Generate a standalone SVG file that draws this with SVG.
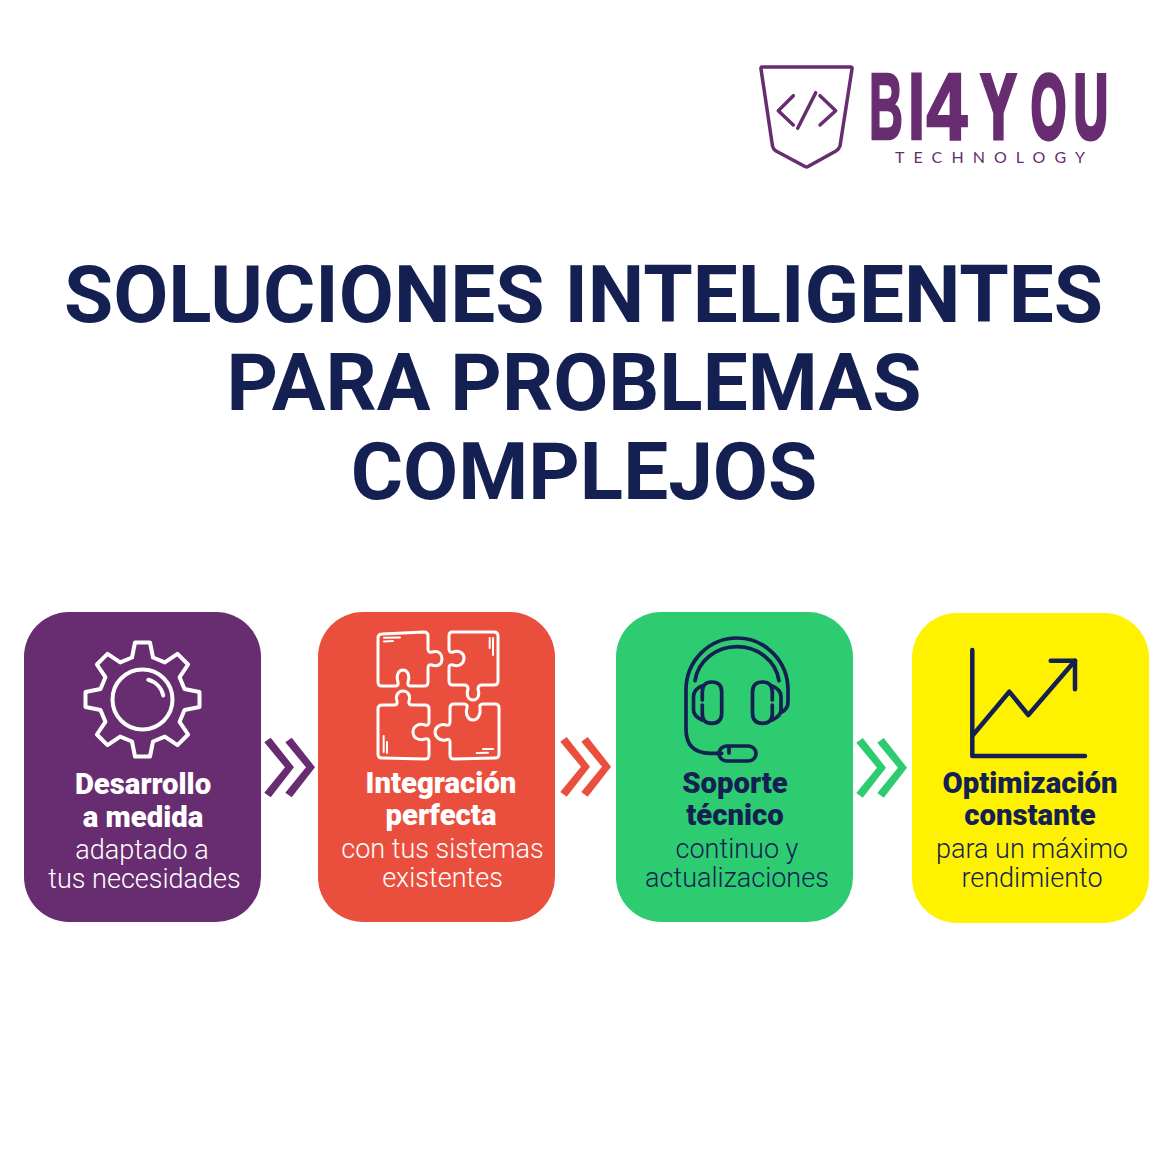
<svg xmlns="http://www.w3.org/2000/svg" width="1174" height="1174" viewBox="0 0 1174 1174">
<style>
text{font-family:Roboto,"Liberation Sans",sans-serif;text-anchor:middle}
.t{font-weight:700;font-size:80px;fill:#141f52}
.b{font-weight:900;font-size:29.300px}
.r{font-weight:300;font-size:27px}
.w{fill:#fff}.n{fill:#141f52}
.sw{fill:none;stroke:#fff;stroke-linecap:round;stroke-linejoin:round}
.sn{fill:none;stroke:#141f52;stroke-linecap:round;stroke-linejoin:round}
.lg{fill:none;stroke:#682c70;stroke-width:3.500;stroke-linecap:round;stroke-linejoin:round}
.lt{font-family:"Liberation Sans",sans-serif;font-weight:700;font-size:94px;fill:#682c70;stroke:#682c70;stroke-width:2.500;text-anchor:start}
.lt2{font-size:90px;stroke-width:5}
</style>
<defs>
<g id="chev"><polygon points="264.3,742.3 270.7,737.7 294,767.3 270.7,797.3 264.3,792.7 285,767.3"/><polygon points="285.3,742.3 291.7,737.7 315,767.3 291.7,797.3 285.3,792.7 306,767.3"/></g>
</defs>
<rect width="1174" height="1174" fill="#fff"/>
<g id="logo">
<path class="lg" d="M762 67H850.5Q852.5 67 852 69L840 146Q839 149 836 151L808 166.5Q806.7 167.3 805 166.5L776 151Q773 149 772.5 146L761 69Q760.7 67 762 67Z"/>
<path class="lg" d="M793.3 95.7L778.3 110.7L793.3 125M815.7 92.7L797.7 128.3M820 95.7L835.7 110.7L820 125"/>
<g class="letters">
<text class="lt" transform="translate(869 139) scale(.5 1)">B</text>
<text class="lt" transform="translate(908 139) scale(.65 1)">I</text>
<text class="lt" transform="translate(926.500 139) scale(.78 1)">4</text>
<text class="lt lt2" transform="translate(981 138) scale(.58 1)">Y</text>
<text class="lt lt2" transform="translate(1031 138) scale(.5 1)">O</text>
<text class="lt lt2" transform="translate(1074 138) scale(.52 1)">U</text>
</g>
<text x="990" y="163" textLength="190" style="font-family:Lato,sans-serif;font-weight:400;font-size:16px;fill:#682c70">TECHNOLOGY</text>
</g>
<g id="title">
<text class="t" x="583.5" y="322">SOLUCIONES INTELIGENTES</text>
<text class="t" x="574" y="410">PARA PROBLEMAS</text>
<text class="t" x="584" y="498.500">COMPLEJOS</text>
</g>
<g id="connectors">
<use href="#chev" fill="#682c70"/>
<use href="#chev" x="296" y="-.6" fill="#ea4f3d"/>
<use href="#chev" x="592" y=".4" fill="#2ecc71"/>
</g>
<g id="card-desarrollo">
<rect x="24" y="612" width="237" height="310" rx="45" fill="#682c70"/>
<g class="sw" stroke-width="4" transform="translate(142.5 699.500)">
<path d="M-10.5 -42L-7.5 -57H7.5L10.5 -42L22.3 -37.1L35 -45.6L45.6 -35L37.1 -22.3L42 -10.5L57 -7.5V7.5L42 10.5L37.1 22.3L45.6 35L35 45.6L22.3 37.1L10.5 42L7.5 57H-7.5L-10.5 42L-22.3 37.1L-35 45.6L-45.6 35L-37.1 22.3L-42 10.5L-57 7.5V-7.5L-42 -10.5L-37.1 -22.3L-45.6 -35L-35 -45.6L-22.3 -37.1Z"/>
<circle r="30"/>
<path d="M5.8 -19.7A21 21 0 0 1 20.8 -4"/>
</g>
<text class="b w" x="143" y="794">Desarrollo</text>
<text class="b w" x="143" y="827">a medida</text>
<text class="r w" x="142" y="859">adaptado a</text>
<text class="r w" x="144.500" y="888">tus necesidades</text>
</g>
<g id="card-integracion">
<rect x="318" y="612" width="237" height="310" rx="45" fill="#ea4f3d"/>
<g class="sw" stroke-width="3">
<path d="M382 634L424 632Q428 632 428 636V649Q428 653 432 652C440 650 442 655 442 659C442 664 438 667 432 665Q428 664 428 668V682Q428 686 424 686H411Q407 686 408 682C410 676 408 670 403 670C398 670 396 676 398 682Q399 686 395 686H382Q378 686 378 682V638Q378 634 382 634Z"/>
<path d="M452 632H494Q498 632 498 636V681Q498 685 494 685H482Q478 685 478 689C480 695 478 700 473 700C468 700 466 695 468 689Q468 685 464 685H453Q449 685 449 681V668Q449 664 453 665C459 667 464 664 464 658C464 653 459 650 453 652Q449 653 449 649V636Q449 632 452 632Z"/>
<path d="M382 705H394Q398 705 397 701C395 696 398 691 403 691C408 691 411 696 409 701Q408 705 412 705H425Q429 705 429 709V722Q429 726 425 725C419 723 413 726 413 732C413 738 419 741 425 739Q429 738 429 742V755Q429 759 425 759L382 758Q378 758 378 754V709Q378 705 382 705Z"/>
<path d="M454 704H464Q468 704 467 708C465 714 468 720 473 720C478 720 481 714 480 708Q479 704 483 704H495Q499 704 499 708V754Q499 758 495 758L454 759Q450 759 450 755V742Q450 738 446 740C441 741 435 738 435 732C435 727 441 723 446 725Q450 726 450 722V708Q450 704 454 704Z"/>
<path stroke-width="2" d="M384 637.700L400 637.500M384 641.500L393 641M489.700 638V648M493 638V655M383.700 736V752M387 742V753M476.700 753L488 752.700M483 749H493"/>
</g>
<text class="b w" x="441" y="793">Integración</text>
<text class="b w" x="441" y="825">perfecta</text>
<text class="r w" x="442.500" y="858">con tus sistemas</text>
<text class="r w" x="442.500" y="887">existentes</text>
</g>
<g id="card-soporte">
<rect x="616" y="612" width="237" height="310" rx="45" fill="#2ecc71"/>
<g class="sn" stroke-width="3.700">
<path d="M721.700 753.300H710Q686 753 686 729V690C686 661 709 638 737 638C765 638 788 661 788 690V702Q788 709 781.700 712"/>
<path d="M695 680.700C698 661 716 646.700 737 646.700C758 646.700 776 661 779 680.700"/>
<path d="M702.300 700V692Q702.300 682 711.700 682Q721.700 682 721.700 692V713Q721.700 723.300 711.700 723.300Q702.300 723.300 702.300 714V705"/>
<path d="M702 686Q693.500 689 693.500 697V710Q693.500 716 702 720"/>
<path d="M772.300 700V692Q772.300 682 762.500 682Q752.500 682 752.500 692V713Q752.500 723.300 762.500 723.300Q772.300 723.300 772.300 714V705"/>
<path d="M772 686Q781 689 781 697V710Q781 716 772 720"/>
<rect x="719" y="746" width="37" height="15" rx="7.500"/>
<path d="M729 748V753"/>
</g>
<text class="b n" x="735" y="793">Soporte</text>
<text class="b n" x="735" y="825">técnico</text>
<text class="r n" x="737" y="858">continuo y</text>
<text class="r n" x="737" y="887">actualizaciones</text>
</g>
<g id="card-optimizacion">
<rect x="912" y="613" width="237" height="310" rx="45" fill="#fff200"/>
<g class="sn" stroke-width="4.500">
<path d="M972.300 650V756H1085"/>
<path d="M973 735L1009.300 691.700L1028.300 715L1075 660.700"/>
<path d="M1050.700 660.700H1075V689.300"/>
</g>
<text class="b n" x="1030" y="793">Optimización</text>
<text class="b n" x="1030" y="825">constante</text>
<text class="r n" x="1032" y="858">para un máximo</text>
<text class="r n" x="1032" y="887">rendimiento</text>
</g>
</svg>
